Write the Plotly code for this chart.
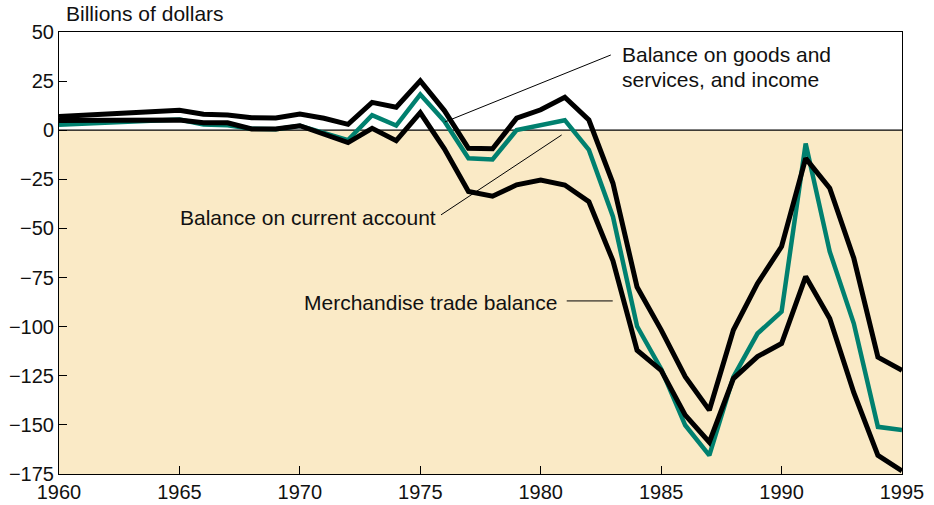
import plotly.graph_objects as go

years = [1960, 1965, 1966, 1967, 1968, 1969, 1970, 1971, 1972, 1973, 1974,
         1975, 1976, 1977, 1978, 1979, 1980, 1981, 1982, 1983, 1984, 1985,
         1986, 1987, 1988, 1989, 1990, 1991, 1992, 1993, 1994, 1995]

goods_services_income = [7.0, 10.2, 8.1, 7.8, 6.4, 6.2, 8.3, 6.1, 3.0, 14.2, 11.7,
                         25.1, 10.0, -9.2, -9.4, 6.1, 10.4, 16.8, 5.2, -27.0, -79.8, -101.6,
                         -125.5, -142.5, -101.7, -78.0, -59.2, -14.3, -29.5, -65.2, -115.5, -122.2]

current_account = [2.8, 5.4, 2.9, 2.5, 0.8, 0.5, 2.3, -1.4, -5.0, 7.6, 2.4,
                   18.2, 4.6, -14.3, -14.9, 0.1, 2.4, 5.1, -10.0, -44.0, -99.8, -121.5,
                   -150.2, -165.5, -125.6, -103.5, -92.4, -6.8, -61.8, -98.4, -151.0, -152.6]

merchandise_trade = [4.9, 5.2, 3.8, 3.8, 0.6, 0.6, 2.3, -2.3, -6.3, 1.0, -5.3,
                     8.9, -9.5, -31.2, -33.6, -27.8, -25.4, -27.9, -36.4, -66.5, -112.0, -122.2,
                     -145.0, -158.8, -126.4, -115.2, -108.6, -74.5, -95.8, -133.6, -165.5, -173.4]

y_ticks = [50, 25, 0, -25, -50, -75, -100, -125, -150, -175]
x_ticks = [1960, 1965, 1970, 1975, 1980, 1985, 1990, 1995]

FONT = "Liberation Sans, Arial, Helvetica, sans-serif"
TEAL = "#00806F"
SHADE = "#FAEAC6"

fig = go.Figure()

fig.add_trace(go.Scatter(x=years, y=current_account, mode="lines",
                         line=dict(color=TEAL, width=4.5), name="Balance on current account"))
fig.add_trace(go.Scatter(x=years, y=merchandise_trade, mode="lines",
                         line=dict(color="black", width=5), name="Merchandise trade balance"))
fig.add_trace(go.Scatter(x=years, y=goods_services_income, mode="lines",
                         line=dict(color="black", width=5),
                         name="Balance on goods and services, and income"))

shapes = [
    dict(type="rect", xref="x", yref="y", x0=1960, x1=1995, y0=-175, y1=0,
         fillcolor=SHADE, line=dict(width=0), layer="below"),
    dict(type="line", xref="x", yref="y", x0=1960, x1=1995, y0=0, y1=0,
         line=dict(color="black", width=1.2), layer="below"),
    # leader lines
    dict(type="line", xref="x", yref="y", x0=1982.91, y0=38.3, x1=1976.02, y1=4.2,
         line=dict(color="black", width=1)),
    dict(type="line", xref="x", yref="y", x0=1975.86, y0=-43.1, x1=1980.87, y1=-2.4,
         line=dict(color="black", width=1)),
    dict(type="line", xref="x", yref="y", x0=1981.08, y0=-86.9, x1=1982.99, y1=-86.9,
         line=dict(color="black", width=1)),
]

ann_font = dict(family=FONT, size=21, color="#111111")
annotations = [
    dict(text="Billions of dollars", xref="paper", yref="paper", x=0.006, y=1.042,
         xanchor="left", yanchor="middle", showarrow=False, font=dict(family=FONT, size=21, color="#111111")),
    dict(text="Balance on goods and", xref="x", yref="y", x=1983.30, y=38.3,
         xanchor="left", yanchor="middle", showarrow=False, font=ann_font),
    dict(text="services, and income", xref="x", yref="y", x=1983.30, y=26.0,
         xanchor="left", yanchor="middle", showarrow=False, font=ann_font),
    dict(text="Balance on current account", xref="x", yref="y", x=1964.92, y=-44.3,
         xanchor="left", yanchor="middle", showarrow=False, font=ann_font),
    dict(text="Merchandise trade balance", xref="x", yref="y", x=1970.1, y=-87.6,
         xanchor="left", yanchor="middle", showarrow=False, font=ann_font),
]

fig.update_layout(
    width=934, height=505,
    margin=dict(l=59, r=32, t=32, b=31, autoexpand=False),
    paper_bgcolor="white", plot_bgcolor="white",
    showlegend=False,
    font=dict(family=FONT, size=20, color="#111111"),
    shapes=shapes,
    annotations=annotations,
    xaxis=dict(range=[1960, 1995], tickvals=x_ticks, ticktext=[str(v) for v in x_ticks],
               ticks="inside", ticklen=8, tickcolor="black", tickwidth=1, automargin=False,
               showline=True, linecolor="black", linewidth=1, mirror=True,
               showgrid=False, zeroline=False, tickfont=dict(size=20, family=FONT, color="#111111")),
    yaxis=dict(range=[-175, 50], tickvals=y_ticks, automargin=False,
               ticks="inside", ticklen=8, tickcolor="black", tickwidth=1,
               showline=True, linecolor="black", linewidth=1, mirror=True,
               showgrid=False, zeroline=False, tickfont=dict(size=20, family=FONT, color="#111111")),
)

fig.write_html("out.html", config={"displayModeBar": False},
               post_script="document.body.style.margin='0';document.body.style.overflow='hidden';")
